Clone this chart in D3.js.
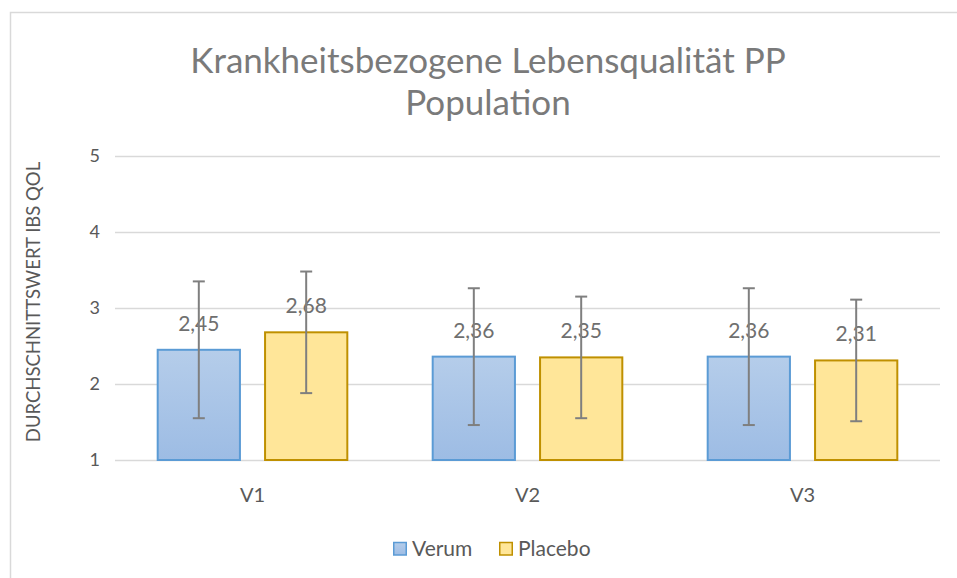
<!DOCTYPE html>
<html><head><meta charset="utf-8">
<script src="https://cdn.jsdelivr.net/npm/d3@7"></script>
<style>html,body{margin:0;padding:0;background:#fff;overflow:hidden}</style>
</head><body>
<svg id="chart" width="957" height="578"></svg>
<script>
const categories = ["V1", "V2", "V3"];
const seriesNames = ["Verum", "Placebo"];
const verumValues = [2.45, 2.36, 2.36];
const placeboValues = [2.68, 2.35, 2.31];
const verumErrors = [0.9, 0.9, 0.9];
const placeboErrors = [0.8, 0.8, 0.8];
const yTicks = [1, 2, 3, 4, 5];
const titleLines = ["Krankheitsbezogene Lebensqualität PP", "Population"];
const yTitle = "DURCHSCHNITTSWERT IBS QOL";

(function () {
const series = [
  {name: seriesNames[0], values: verumValues, errors: verumErrors, fill: "url(#gBlue)", stroke: "#5b9bd5"},
  {name: seriesNames[1], values: placeboValues, errors: placeboErrors, fill: "#ffe699", stroke: "#bf9000"}
];

const font = "Lato, 'Open Sans', sans-serif";
const svg = d3.select("#chart");
const defs = svg.append("defs");
const g = defs.append("linearGradient").attr("id", "gBlue").attr("x1", 0).attr("y1", 0).attr("x2", 0).attr("y2", 1);
g.append("stop").attr("offset", "0%").attr("stop-color", "#b5cdea");
g.append("stop").attr("offset", "100%").attr("stop-color", "#9dbce4");

// chart border
svg.append("path").attr("d", "M10.5,578 L10.5,12.5 L957,12.5").attr("fill", "none").attr("stroke", "#d9d9d9").attr("stroke-width", 1.5);

const pl = 115, pr = 940, pt = 156, pb = 460;
const x0 = d3.scaleBand().domain(categories).range([pl, pr]).paddingInner(0.305).paddingOuter(0.1525);
const x1 = d3.scaleBand().domain(seriesNames).range([0, x0.bandwidth()]).paddingInner(0.22).paddingOuter(0);
const y = d3.scaleLinear().domain([1, 5]).range([pb, pt]);

// gridlines
const grid = svg.append("g").attr("transform", `translate(${pl},0)`)
  .call(d3.axisLeft(y).tickValues(yTicks).tickSize(-(pr - pl)).tickFormat(""));
grid.select(".domain").remove();
grid.selectAll("line").attr("stroke", "#d9d9d9").attr("stroke-width", 1.3);

// y tick labels
const yAxis = svg.append("g").attr("transform", `translate(${pl},0)`)
  .call(d3.axisLeft(y).tickValues(yTicks).tickSize(0).tickPadding(15).tickFormat(d3.format("d")));
yAxis.select(".domain").remove();
yAxis.selectAll("text").attr("font-family", font).attr("font-size", 18).attr("fill", "#595959");

// x axis labels
const xAxis = svg.append("g").attr("transform", `translate(0,${pb})`)
  .call(d3.axisBottom(x0).tickSize(0).tickPadding(28));
xAxis.select(".domain").remove();
xAxis.selectAll("text").attr("font-family", font).attr("font-size", 20).attr("fill", "#595959");

// bars
const groups = svg.selectAll("g.cat").data(categories).join("g").attr("class", "cat")
  .attr("transform", d => `translate(${x0(d)},0)`);
series.forEach(s => {
  groups.append("rect")
    .attr("x", x1(s.name) + 0.75)
    .attr("y", (d, i) => y(s.values[i]))
    .attr("width", x1.bandwidth() - 1.5)
    .attr("height", (d, i) => y(1) - y(s.values[i]))
    .attr("fill", s.fill).attr("stroke", s.stroke).attr("stroke-width", 2);
});
// labels
series.forEach(s => {
  groups.append("text")
    .attr("x", x1(s.name) + x1.bandwidth() / 2)
    .attr("y", (d, i) => y(s.values[i]) - 19)
    .attr("text-anchor", "middle")
    .attr("font-family", font).attr("font-size", 21).attr("fill", "#6f6f6f")
    .text((d, i) => d3.format(".2f")(s.values[i]).replace(".", ","));
});
// error bars
series.forEach(s => {
  const cx = x1(s.name) + x1.bandwidth() / 2;
  const eb = groups.append("g").attr("stroke", "#7f7f7f").attr("stroke-width", 2);
  eb.append("line").attr("x1", cx).attr("x2", cx)
    .attr("y1", (d, i) => y(s.values[i] + s.errors[i]))
    .attr("y2", (d, i) => y(s.values[i] - s.errors[i]));
  eb.append("line").attr("x1", cx - 6).attr("x2", cx + 6)
    .attr("y1", (d, i) => y(s.values[i] + s.errors[i]))
    .attr("y2", (d, i) => y(s.values[i] + s.errors[i]));
  eb.append("line").attr("x1", cx - 6).attr("x2", cx + 6)
    .attr("y1", (d, i) => y(s.values[i] - s.errors[i]))
    .attr("y2", (d, i) => y(s.values[i] - s.errors[i]));
});

// title
svg.append("text").attr("x", 488).attr("text-anchor", "middle")
  .attr("font-family", font).attr("font-size", 35).attr("fill", "#7a7a7a")
  .selectAll("tspan").data(titleLines).join("tspan")
  .attr("x", 488).attr("y", (d, i) => 73 + i * 42).text(d => d);

// y title
svg.append("text").attr("transform", "translate(40,302) rotate(-90)")
  .attr("text-anchor", "middle").attr("font-family", font).attr("font-size", 18.5).attr("fill", "#595959")
  .text(yTitle);

// legend
const legend = svg.append("g").attr("transform", "translate(393,549)");
const lx = [0, 106];
series.forEach((s, i) => {
  const lg = legend.append("g").attr("transform", `translate(${lx[i]},0)`);
  lg.append("rect").attr("x", 0.75).attr("y", -6.5).attr("width", 12.5).attr("height", 12.5)
    .attr("fill", s.fill).attr("stroke", s.stroke).attr("stroke-width", 1.5);
  lg.append("text").attr("x", 19).attr("y", 7).attr("font-family", font).attr("font-size", 21)
    .attr("fill", "#595959").text(s.name);
});
})();
</script>
</body></html>
